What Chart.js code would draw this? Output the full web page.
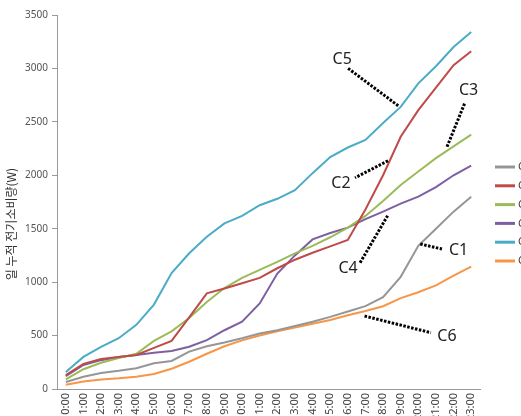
<!DOCTYPE html>
<html>
<head>
<meta charset="utf-8">
<script src="https://cdn.jsdelivr.net/npm/chart.js@4/dist/chart.umd.min.js"></script>
<style>
html, body { margin: 0; padding: 0; background: #fff; overflow: hidden; }
#wrap { width: 521px; height: 416px; overflow: hidden; position: relative; }
</style>
</head>
<body>
<div id="wrap"><canvas id="chart" width="560" height="440"></canvas></div>
<script>
const hours = ["0:00", "1:00", "2:00", "3:00", "4:00", "5:00", "6:00", "7:00", "8:00", "9:00", "10:00", "11:00",
    "12:00", "13:00", "14:00", "15:00", "16:00", "17:00", "18:00", "19:00", "20:00", "21:00", "22:00", "23:00"];
const seriesNames = ["C1", "C2", "C3", "C4", "C5", "C6"];
const c1 = [65, 115, 150, 170, 195, 240, 262, 350, 400, 435, 475, 520, 550, 590, 630, 675, 725, 775, 860, 1050, 1340, 1500, 1660, 1800];
const c2 = [130, 235, 280, 300, 318, 385, 450, 670, 895, 940, 990, 1040, 1130, 1210, 1275, 1335, 1395, 1680, 2000, 2360, 2610, 2820, 3030, 3160];
const c3 = [90, 185, 245, 290, 330, 450, 540, 665, 815, 945, 1040, 1115, 1190, 1270, 1340, 1420, 1510, 1620, 1760, 1910, 2035, 2160, 2270, 2380];
const c4 = [120, 225, 270, 300, 318, 340, 355, 395, 458, 550, 630, 800, 1080, 1250, 1400, 1460, 1510, 1590, 1660, 1735, 1800, 1890, 2000, 2090];
const c5 = [160, 300, 395, 475, 600, 790, 1085, 1270, 1425, 1550, 1620, 1720, 1780, 1860, 2020, 2170, 2260, 2330, 2490, 2640, 2860, 3020, 3200, 3340];
const c6 = [40, 70, 90, 100, 115, 140, 190, 255, 330, 400, 455, 500, 540, 575, 610, 645, 690, 730, 775, 850, 905, 970, 1060, 1145];
const yTicks = [0, 500, 1000, 1500, 2000, 2500, 3000, 3500];
const yTitle = "일 누적 전기소비량(W)";

const colors = ["#969696", "#be4b48", "#9bbb59", "#7d60a0", "#4bacc6", "#f79646"];
const allValues = [c1, c2, c3, c4, c5, c6];

// callout labels: anchor on the series (index, value), far end and text as pixel offsets
const callouts = [
    { text: "C5", i: 18.86, v: 2651, dx: -51, dy: -38, tx: -56, ty: -46 },
    { text: "C2", i: 18.28, v: 2136, dx: -33, dy: 17, tx: -47, ty: 23 },
    { text: "C3", i: 21.63, v: 2267, dx: 17.6, dy: -43.4, tx: 21.6, ty: -56 },
    { text: "C4", i: 18.26, v: 1622, dx: -28.3, dy: 48.3, tx: -39.6, ty: 52.6 },
    { text: "C1", i: 20.11, v: 1357, dx: 21.7, dy: 5, tx: 38.3, ty: 6 },
    { text: "C6", i: 16.95, v: 683, dx: 66.4, dy: 16.7, tx: 82.4, ty: 20.7 }
];

const extras = {
    id: "extras",
    afterDraw(chart) {
        const ctx = chart.ctx;
        const xs = chart.scales.x, ys = chart.scales.y;
        ctx.save();

        // y axis title
        ctx.translate(11, 224);
        ctx.rotate(-Math.PI / 2);
        ctx.fillStyle = "#333";
        ctx.font = "12px 'Noto Sans CJK KR'";
        ctx.textAlign = "center";
        ctx.textBaseline = "middle";
        ctx.fillText(yTitle, 0, 0);
        ctx.setTransform(1, 0, 0, 1, 0, 0);

        // legend (cut by the window edge like the reference)
        chart.data.datasets.forEach((ds, k) => {
            const y = 167 + k * 18.8;
            ctx.strokeStyle = ds.borderColor;
            ctx.lineWidth = 3;
            ctx.beginPath();
            ctx.moveTo(495, y);
            ctx.lineTo(515, y);
            ctx.stroke();
            ctx.fillStyle = "#444";
            ctx.font = "11px 'Noto Sans'";
            ctx.textAlign = "left";
            ctx.textBaseline = "middle";
            ctx.fillText(ds.label, 518, y);
        });

        // callouts
        callouts.forEach(c => {
            const ax = xs.getPixelForValue(c.i);
            const ay = ys.getPixelForValue(c.v);
            ctx.strokeStyle = "#000";
            ctx.lineWidth = 3;
            ctx.setLineDash([2.5, 1.5]);
            ctx.beginPath();
            ctx.moveTo(ax, ay);
            ctx.lineTo(ax + c.dx, ay + c.dy);
            ctx.stroke();
            ctx.setLineDash([]);
            ctx.fillStyle = "#222";
            ctx.font = "16px 'Noto Sans'";
            ctx.textAlign = "center";
            ctx.textBaseline = "middle";
            ctx.fillText(c.text, ax + c.tx, ay + c.ty);
        });
        ctx.restore();
    }
};

new Chart(document.getElementById("chart"), {
    type: "line",
    data: {
        labels: hours,
        datasets: seriesNames.map((name, k) => ({
            label: name,
            data: allValues[k],
            borderColor: colors[k],
            backgroundColor: colors[k],
            borderWidth: 2,
            pointRadius: 0,
            tension: 0,
            fill: false
        }))
    },
    options: {
        responsive: false,
        animation: false,
        layout: { padding: { top: 15, right: 80, left: 0, bottom: 0 } },
        plugins: {
            legend: { display: false },
            tooltip: { enabled: false }
        },
        scales: {
            x: {
                offset: true,
                grid: { display: false },
                border: { display: true, color: "#999", width: 1 },
                ticks: {
                    maxRotation: 90,
                    minRotation: 90,
                    autoSkip: false,
                    padding: -4,
                    color: "#444",
                    font: { family: "'Noto Sans'", size: 11 }
                },
                afterFit(scale) { scale.height = 51; }
            },
            y: {
                min: 0,
                max: 3500,
                afterBuildTicks(scale) { scale.ticks = yTicks.map(v => ({ value: v })); },
                grid: { drawOnChartArea: false, drawTicks: true, tickLength: 5, color: "#999" },
                border: { display: true, color: "#999", width: 1 },
                ticks: {
                    padding: 4,
                    color: "#555",
                    font: { family: "'Noto Sans'", size: 10 },
                    callback: v => String(v)
                },
                afterFit(scale) { scale.width = 57; }
            }
        }
    },
    plugins: [extras]
});
</script>
</body>
</html>
